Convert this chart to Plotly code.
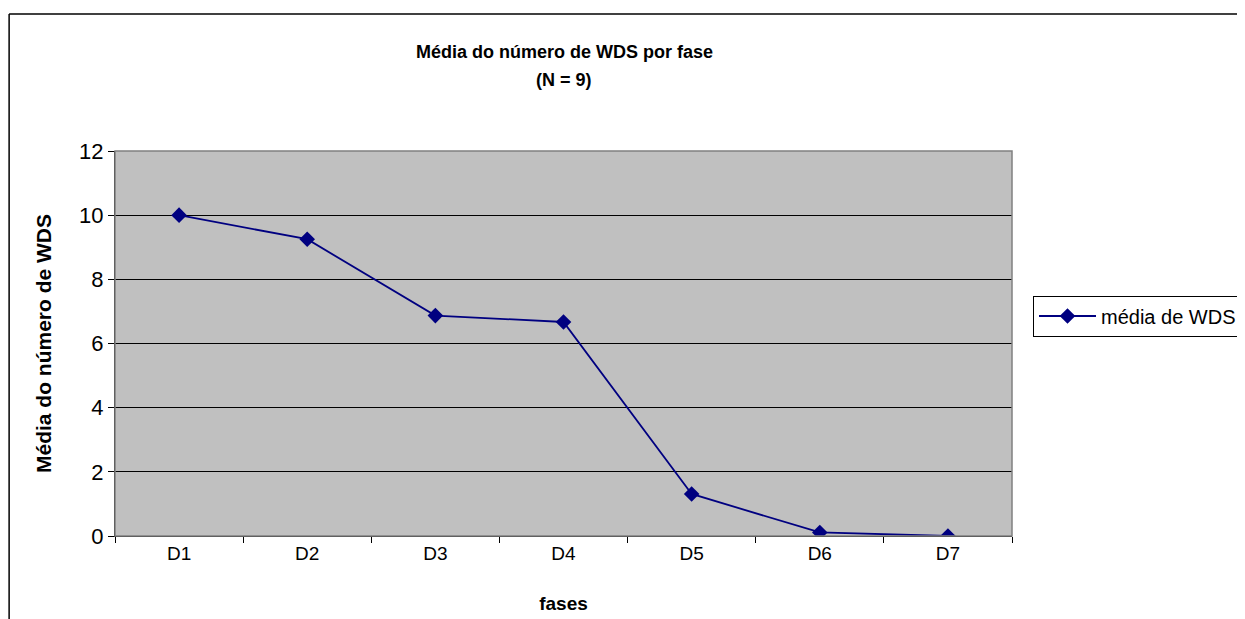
import plotly.graph_objects as go

fases = ["D1", "D2", "D3", "D4", "D5", "D6", "D7"]
media_wds = [10.0, 9.25, 6.87, 6.67, 1.31, 0.11, 0.0]
y_ticks = [0, 2, 4, 6, 8, 10, 12]

# the page body adds an 8px margin, so work in screen pixels and shift
OFF = 8
W, H = 1245, 619
L, T = 115 - OFF, 151 - OFF
pw, ph = 898, 385
R, B = W - L - pw, H - T - ph


def px_x(x):
    return (x - OFF - L) / pw


def px_y(y):
    return (T + ph - (y - OFF)) / ph


fig = go.Figure()
fig.add_trace(
    go.Scatter(
        x=fases,
        y=media_wds,
        mode="lines+markers",
        name="média de WDS",
        line={"color": "#000080", "width": 1.8},
        marker={"symbol": "diamond", "size": 12, "color": "#000080"},
    )
)

font = "Liberation Sans, Arial, sans-serif"
fig.update_layout(
    width=W,
    height=H,
    margin={"l": L, "r": R, "t": T, "b": B},
    paper_bgcolor="#ffffff",
    plot_bgcolor="#c0c0c0",
    font={"family": font, "size": 19, "color": "#000000"},
    showlegend=True,
    legend={
        "x": px_x(1033),
        "xanchor": "left",
        "y": px_y(316),
        "yanchor": "middle",
        "bordercolor": "#000000",
        "borderwidth": 1,
        "bgcolor": "#ffffff",
        "font": {"size": 20},
        "itemwidth": 57,
    },
)
for text, y in [("Média do número de WDS por fase", 52), ("(N = 9)", 80)]:
    fig.add_annotation(
        text=f"<b>{text}</b>",
        xref="paper", yref="paper",
        x=px_x(565), y=px_y(y),
        xanchor="center", yanchor="middle",
        showarrow=False,
        font={"size": 18},
    )
fig.update_xaxes(
    type="category",
    range=[-0.5, 6.5],
    tickson="boundaries",
    ticks="outside",
    ticklen=6,
    tickcolor="#000000",
    showline=True,
    linecolor="#000000",
    showgrid=False,
    tickfont={"size": 19},
    title={"text": "<b>fases</b>", "standoff": 33, "font": {"size": 19}},
)
fig.update_yaxes(
    range=[0, 12],
    tickvals=y_ticks,
    ticks="outside",
    ticklen=6,
    tickcolor="#000000",
    showline=True,
    linecolor="#000000",
    showgrid=True,
    gridcolor="#000000",
    gridwidth=1,
    zeroline=False,
    tickfont={"size": 22},
    title={"text": "<b>Média do número de WDS</b>", "standoff": 21, "font": {"size": 21}},
)

# plot area border (gray) and outer chart frame
fig.add_shape(type="rect", xref="paper", yref="paper", x0=0, y0=0, x1=1, y1=1,
              line={"color": "#808080", "width": 1.5}, layer="above")
fig.add_shape(type="line", xref="paper", yref="paper",
              x0=px_x(9), y0=px_y(14), x1=px_x(9), y1=px_y(H + 20),
              line={"color": "#000000", "width": 1.5})
fig.add_shape(type="line", xref="paper", yref="paper",
              x0=px_x(9), y0=px_y(14), x1=px_x(W + 20), y1=px_y(14),
              line={"color": "#000000", "width": 1.5})

fig.write_html("out.html")
